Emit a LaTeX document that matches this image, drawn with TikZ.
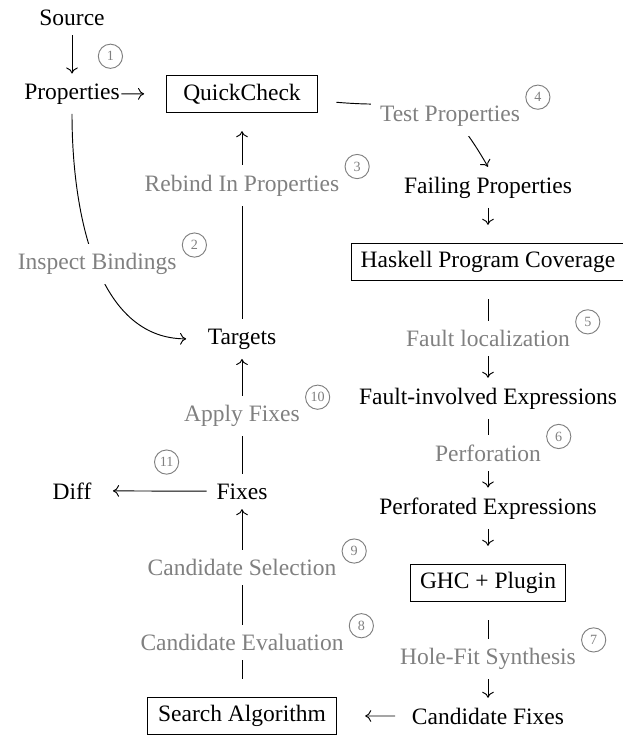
\documentclass[tikz,border=0pt]{standalone}
\usepackage{fontspec}
\setmainfont{Liberation Serif}
\usepackage{tikz}
\usetikzlibrary{positioning, arrows.meta}
\definecolor{stepgray}{HTML}{808080}

\begin{document}
\begin{tikzpicture}[
  x=0.4255pt, y=0.4255pt,
  txt/.style={inner xsep=4pt, inner ysep=4pt, anchor=base},
  box/.style={draw, inner xsep=4pt, inner ysep=3pt, minimum height=15.6pt, outer sep=8pt},
  lbl/.style={fill=white, text=stepgray, inner sep=4pt},
  circnum/.style={circle, draw=stepgray, text=stepgray, font=\fontsize{6}{7}\selectfont, inner sep=0pt, minimum size=10.3pt},
  arr/.style={-{Computer Modern Rightarrow[length=2.6pt, width=5pt]}},
]
  \useasboundingbox (0,0) rectangle (622,-735);

  % Nodes
  \node[txt] (src) at (72,-25) {Source};
  \node[txt] (props) at (72,-99) {Properties};
  \node[box, minimum width=64.3pt] (qc) at (242,-94) {QuickCheck};
  \node[txt] (fail) at (488,-193) {Failing Properties};
  \node[box, minimum width=112.3pt] (hpc) at (488,-262) {Haskell Program Coverage};
  \node[txt] (targets) at (242,-344) {Targets};
  \node[txt] (fie) at (488,-404) {Fault-involved Expressions};
  \node[txt] (fixes) at (242,-499) {Fixes};
  \node[txt] (diff) at (72,-499) {Diff};
  \node[txt] (perf) at (488,-514) {Perforated Expressions};
  \node[box, minimum width=64.7pt] (ghc) at (488,-583) {GHC + Plugin};
  \node[box, minimum width=80.8pt] (search) at (242,-716) {Search Algorithm};
  \node[txt] (cand) at (488,-724) {Candidate Fixes};

  % Arrows
  \draw[arr] (src) -- node[circnum, pos=0.55, right=11pt] {1} (props);
  \draw[arr, shorten <=-3.5pt, shorten >=1.5pt] (props) -- (qc);
  \draw[arr, shorten >=5pt] (props) to[out=-90, in=180] node[lbl] (ib) {Inspect Bindings} (targets);
  \draw[arr] (targets) -- node[lbl, pos=0.71] (rb) {Rebind In Properties} (qc);
  \draw[arr] (qc) to[out=-5, in=120, looseness=1.5] node[lbl, pos=0.68] (tp) {Test Properties} (fail.north);
  \draw[arr] (fail) -- (hpc);
  \draw[arr] (hpc) -- node[lbl] (fl) {Fault localization} (fie);
  \draw[arr] (fie) -- node[lbl] (pf) {Perforation} (perf);
  \draw[arr] (perf) -- (ghc);
  \draw[arr] (ghc) -- node[lbl] (hf) {Hole-Fit Synthesis} (cand);
  \draw[arr, shorten <=3pt, shorten >=4pt] (cand) -- (search);
  \draw[arr] (search) -- node[lbl, pos=0.215] (ce) {Candidate Evaluation}
                        node[lbl, pos=0.655] (cs) {Candidate Selection} (fixes);
  \draw[arr] (fixes) -- node[lbl] (af) {Apply Fixes} (targets);
  \draw[arr, shorten >=5pt] (fixes) -- node[circnum, pos=0.38, above=7pt] {11} (diff);

  % Step numbers
  \node[circnum] at ([shift={(8,-1.5)}]ib.north east) {2};
  \node[circnum] at ([shift={(8,-1.5)}]rb.north east) {3};
  \node[circnum] at ([shift={(8,-1.5)}]tp.north east) {4};
  \node[circnum] at ([shift={(8,-1.5)}]fl.north east) {5};
  \node[circnum] at ([shift={(8,-1.5)}]pf.north east) {6};
  \node[circnum] at ([shift={(8,-1.5)}]hf.north east) {7};
  \node[circnum] at ([shift={(8,-1.5)}]ce.north east) {8};
  \node[circnum] at ([shift={(8,-1.5)}]cs.north east) {9};
  \node[circnum] at ([shift={(8,-1.5)}]af.north east) {10};

\end{tikzpicture}
\end{document}
